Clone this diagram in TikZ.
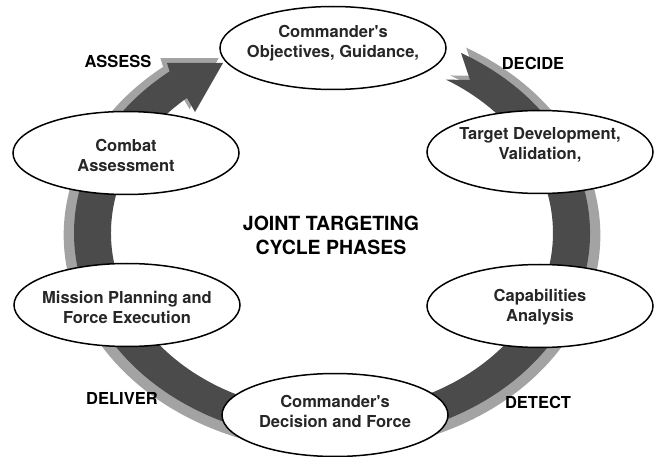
\documentclass[tikz,border=0pt]{standalone}
\usepackage{fontspec}
\setmainfont{TeX Gyre Heros}
\usetikzlibrary{shapes.geometric}
\definecolor{ringdark}{HTML}{4B4B4B}
\definecolor{ringlight}{HTML}{A3A3A3}

\begin{document}
\begin{tikzpicture}[x=1pt,y=1pt,
    phase/.style={ellipse, draw=black, line width=1.5pt, fill=white,
      minimum width=226, minimum height=83, inner sep=0pt},
    phasetext/.style={align=center, text=black!85,
      font=\bfseries\fontsize{16.5}{20}\selectfont},
    step label/.style={font=\bfseries\fontsize{16.5}{20}\selectfont},
    ring/.style={insert path={(445.8,376.4) -- (470,376) -- (461,403.1)
      arc[start angle=60, end angle=-231, x radius=258, y radius=208]
      -- (167,393) -- (223,393) -- (195,344) -- (187,358.1)
      arc[start angle=-229, end angle=59, x radius=221, y radius=179] -- cycle}}]
        \useasboundingbox (0,0) rectangle (654,456);
        % Draw the cycle arrow with its light shadow
        \begin{scope}[shift={(332,221)}, scale=1.04, shift={(-332,-223)}]
            \fill[ringlight, ring];
        \end{scope}
        \fill[ringdark, ring];
        % Add the phases
        \node[phase, label={[phasetext, yshift=5]center:{Commander\textquotesingle s\\Objectives, Guidance,}}] (objectives) at (333,408) {};
        \node[phase, label={[phasetext, yshift=7]center:{Target Development,\\Validation,}}] (development) at (540,304) {};
        \node[phase, label={[phasetext, yshift=-1]center:{Capabilities\\Analysis}}] (capabilities) at (540,150) {};
        \node[phase, label={[phasetext, yshift=4]center:{Commander\textquotesingle s\\Decision and Force}}] (decision) at (335,41) {};
        \node[phase, label={[phasetext, yshift=-2]center:{Mission Planning and\\Force Execution}}] (mission) at (127,151) {};
        \node[phase, label={[phasetext, yshift=-2]center:{Combat\\Assessment}}] (combat) at (126,303) {};
        % Name the steps
        \node[step label] (assess) at (118,395) {ASSESS};
        \node[step label] (decide) at (533,393) {DECIDE};
        \node[step label] (detect) at (538,54) {DETECT};
        \node[step label] (deliver) at (122,58) {DELIVER};
        \node[align=center, font=\bfseries\fontsize{19.5}{24}\selectfont] (title) at (331,221) {JOINT TARGETING\\CYCLE PHASES};
    \end{tikzpicture}
\end{document}
